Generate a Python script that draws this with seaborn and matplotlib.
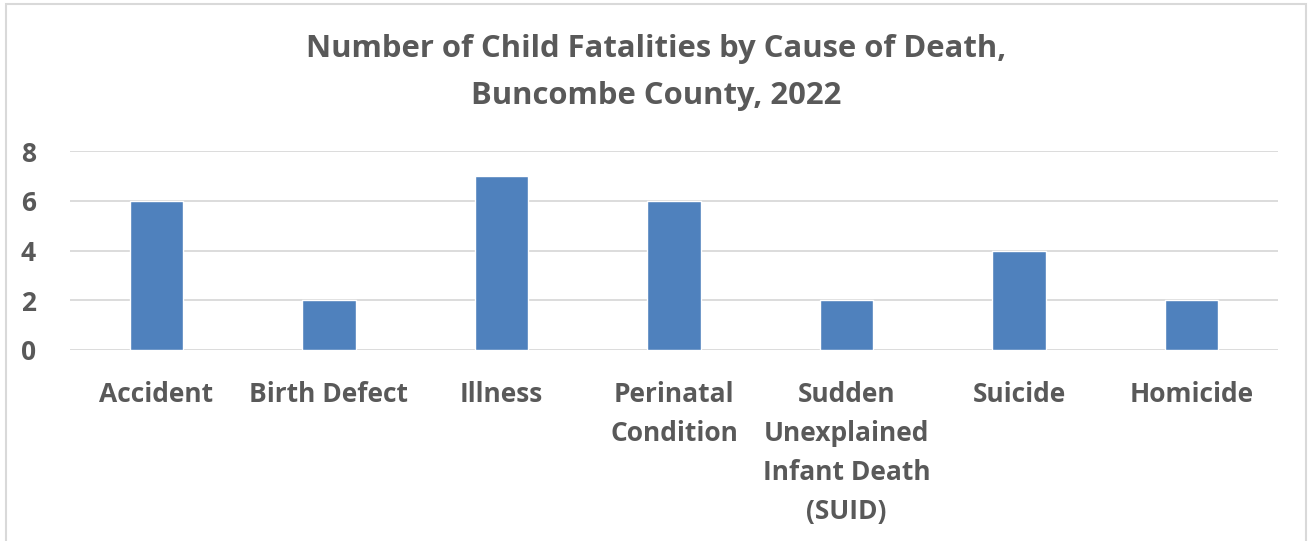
import matplotlib
matplotlib.use("Agg")
import matplotlib.pyplot as plt
import seaborn as sns
import pandas as pd
from matplotlib.patches import Rectangle

categories = ["Accident", "Birth Defect", "Illness", "Perinatal\nCondition",
              "Sudden\nUnexplained\nInfant Death\n(SUID)", "Suicide", "Homicide"]
values = [6, 2, 7, 6, 2, 4, 2]
yticks = [0, 2, 4, 6, 8]
title = "Number of Child Fatalities by Cause of Death,\nBuncombe County, 2022"

sns.set_theme(style="white")
plt.rcParams['font.family'] = ['Open Sans', 'DejaVu Sans']
text_color = "#595959"

fig = plt.figure(figsize=(13.08, 5.41), dpi=100)
ax = fig.add_axes([70/1308, (541-350)/541, 1208/1308, (350-151)/541])

df = pd.DataFrame({"cause": categories, "count": values})
sns.barplot(data=df, x="cause", y="count", color="#4F81BD", width=0.31,
            saturation=1, ax=ax, zorder=3)

ax.set_ylim(0, 8)
ax.set_yticks(yticks)
ax.set_xlim(-0.5, len(categories) - 0.5)
ax.yaxis.grid(True, color="#D9D9D9", linewidth=1.3, zorder=0)
ax.set_axisbelow(True)
for s in ax.spines.values():
    s.set_visible(False)
ax.set_xlabel("")
ax.set_ylabel("")
ax.tick_params(axis="both", length=0)
ax.tick_params(axis="x", pad=22)
ax.tick_params(axis="y", pad=30)
for lbl in ax.get_xticklabels():
    lbl.set_fontsize(19)
    lbl.set_fontweight("bold")
    lbl.set_color(text_color)
    lbl.set_linespacing(1.58)
    lbl.set_va("top")
for lbl in ax.get_yticklabels():
    lbl.set_fontsize(19)
    lbl.set_fontweight("bold")
    lbl.set_color(text_color)
    lbl.set_ha("center")

fig.text(656/1308, 1 - 34/541, title, ha="center", va="top", fontsize=22.3,
         fontweight="bold", color=text_color, linespacing=1.74)

# chart area border
fig.patches.append(Rectangle((6/1308, -0.05), (1306-6)/1308, 1 - 4/541 + 0.05,
                             transform=fig.transFigure, fill=False,
                             edgecolor="#D9D9D9", linewidth=1.5))

fig.savefig("out.png", dpi=100, facecolor="white")
